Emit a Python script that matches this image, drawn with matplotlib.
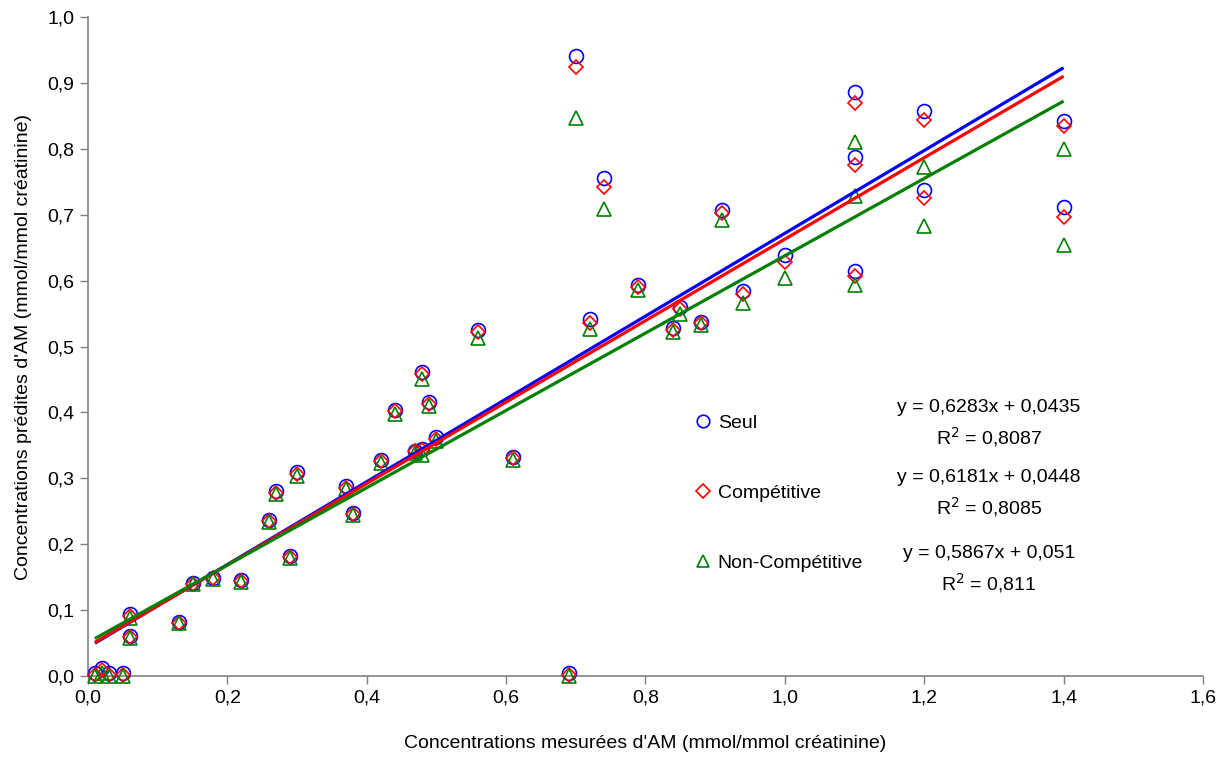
import numpy as np
import matplotlib
matplotlib.use("Agg")
import matplotlib.pyplot as plt
from matplotlib.ticker import FuncFormatter

plt.rcParams['font.family'] = ['Liberation Sans', 'DejaVu Sans']

# measured concentrations (x) and predicted ones for the three models
x_mes = [0.01, 0.02, 0.03, 0.05, 0.06, 0.06, 0.13, 0.15, 0.18, 0.22,
         0.26, 0.27, 0.29, 0.30, 0.37, 0.38, 0.42, 0.44, 0.47, 0.48,
         0.48, 0.49, 0.50, 0.56, 0.61, 0.69, 0.70, 0.72, 0.74, 0.79,
         0.84, 0.85, 0.88, 0.91, 0.94, 1.00, 1.10, 1.10, 1.10, 1.20,
         1.20, 1.40, 1.40]
y_seul = [0.004, 0.012, 0.004, 0.004, 0.094, 0.060, 0.082, 0.141, 0.149, 0.145,
          0.236, 0.280, 0.182, 0.309, 0.288, 0.247, 0.328, 0.404, 0.342, 0.461,
          0.345, 0.416, 0.362, 0.525, 0.332, 0.004, 0.941, 0.542, 0.755, 0.593,
          0.528, 0.560, 0.537, 0.707, 0.585, 0.639, 0.886, 0.788, 0.614, 0.858,
          0.738, 0.842, 0.711]
y_comp = [0.002, 0.009, 0.002, 0.002, 0.091, 0.059, 0.081, 0.140, 0.148, 0.144,
          0.235, 0.278, 0.181, 0.307, 0.286, 0.246, 0.326, 0.402, 0.341, 0.458,
          0.343, 0.413, 0.360, 0.522, 0.331, 0.002, 0.924, 0.535, 0.742, 0.590,
          0.525, 0.557, 0.535, 0.703, 0.579, 0.629, 0.870, 0.775, 0.607, 0.843,
          0.725, 0.834, 0.697]
y_noncomp = [0.0, 0.005, 0.0, 0.0, 0.088, 0.057, 0.080, 0.139, 0.147, 0.142,
             0.233, 0.276, 0.179, 0.304, 0.284, 0.244, 0.323, 0.398, 0.338, 0.451,
             0.335, 0.409, 0.356, 0.513, 0.328, 0.0, 0.847, 0.527, 0.708, 0.586,
             0.522, 0.549, 0.532, 0.692, 0.566, 0.604, 0.810, 0.729, 0.594, 0.772,
             0.683, 0.800, 0.654]

series = ['Seul', 'Compétitive', 'Non-Compétitive']
slopes = [0.6283, 0.6181, 0.5867]
intercepts = [0.0435, 0.0448, 0.051]
r2 = ['0,8087', '0,8085', '0,811']
eq_txt = ['y = 0,6283x + 0,0435', 'y = 0,6181x + 0,0448', 'y = 0,5867x + 0,051']

colors = ['#0000ff', '#ff0000', '#008000']
markers = ['o', 'D', '^']
msizes = [10, 7.5, 10]
FS = 14

fig = plt.figure(figsize=(12.27, 7.57), dpi=100)
ax = fig.add_axes([0.0717, 0.107, 0.9087, 0.8705])

ys = [y_seul, y_comp, y_noncomp]
handles = []
for i in range(3):
    h, = ax.plot(x_mes, ys[i], linestyle='none', marker=markers[i],
                 markersize=msizes[i], markerfacecolor='none',
                 markeredgecolor=colors[i], markeredgewidth=1.2,
                 clip_on=False, zorder=3 + i, label=series[i])
    handles.append(h)

xl = np.array([min(x_mes), max(x_mes)])
for i in range(3):
    ax.plot(xl, slopes[i] * xl + intercepts[i], color=colors[i], lw=2.3,
            solid_capstyle='butt', zorder=10)

ax.set_xlim(0, 1.6)
ax.set_ylim(0, 1.0)
ax.set_xticks(np.arange(0, 1.61, 0.2))
ax.set_yticks(np.arange(0, 1.01, 0.1))
fmt = FuncFormatter(lambda v, p: ('%.1f' % v).replace('.', ','))
ax.xaxis.set_major_formatter(fmt)
ax.yaxis.set_major_formatter(fmt)
ax.tick_params(direction='out', length=6, width=1, color='#808080',
               labelsize=FS, pad=4)
for s in ['top', 'right']:
    ax.spines[s].set_visible(False)
for s in ['left', 'bottom']:
    ax.spines[s].set_color('#808080')
    ax.spines[s].set_linewidth(1.2)

ax.set_xlabel("Concentrations mesurées d'AM (mmol/mmol créatinine)",
              fontsize=FS, labelpad=20)
ax.set_ylabel("Concentrations prédites d'AM (mmol/mmol créatinine)",
              fontsize=FS, labelpad=11)

leg = ax.legend(handles=handles, loc='center left',
                bbox_to_anchor=(0.5256, 0.2777), frameon=False,
                fontsize=FS, labelspacing=2.7, handletextpad=0.15,
                handlelength=1.2, markerscale=0.9)

eq_y = [(0.4067, 0.3627), (0.3005, 0.2565), (0.1866, 0.1411)]
for i in range(3):
    ax.text(0.808, eq_y[i][0], eq_txt[i], transform=ax.transAxes,
            ha='center', va='center', fontsize=FS)
    ax.text(0.808, eq_y[i][1], 'R$^2$ = ' + r2[i], transform=ax.transAxes,
            ha='center', va='center', fontsize=FS)

fig.savefig('out.png', dpi=100)
